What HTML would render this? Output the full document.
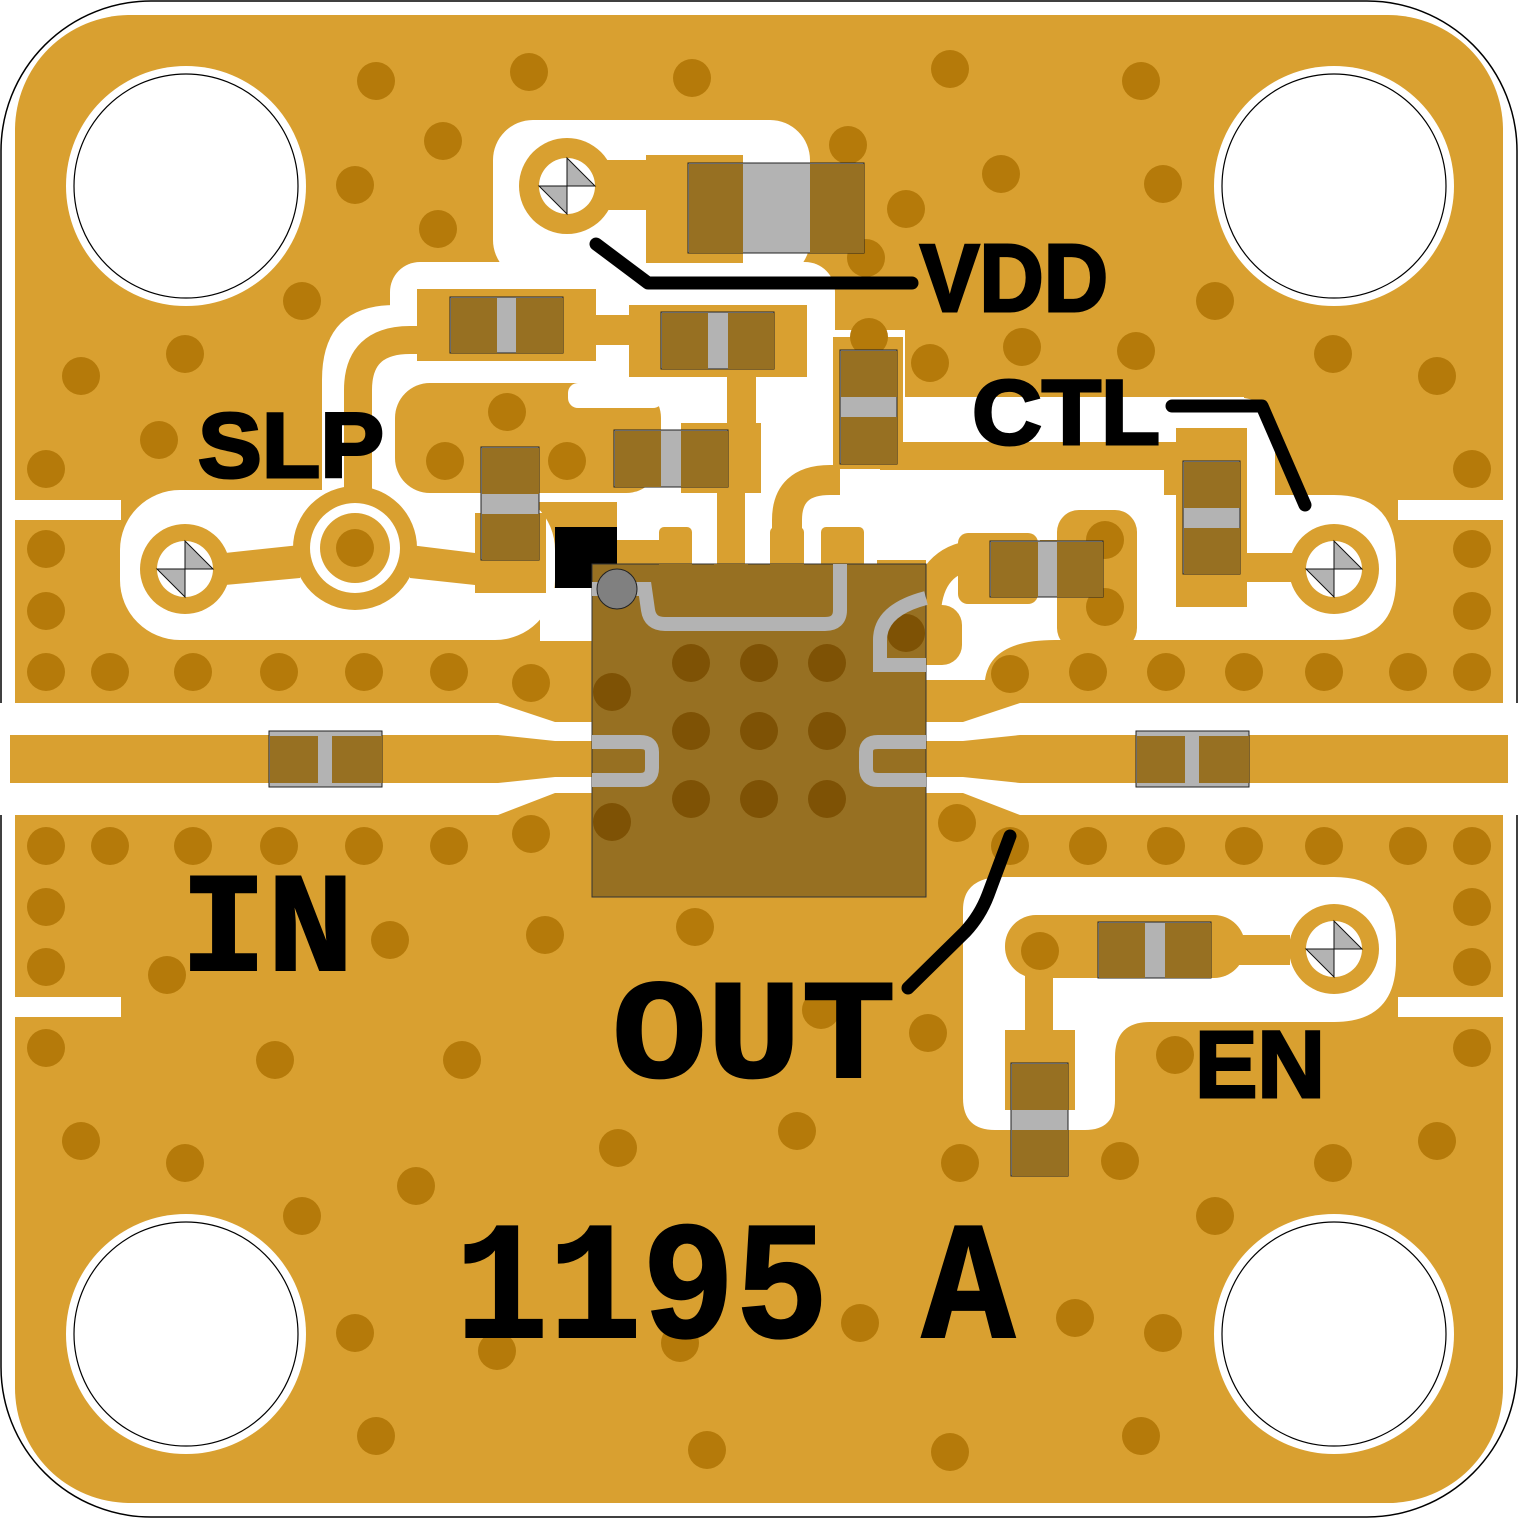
<!DOCTYPE html>
<html><head><meta charset="utf-8"><style>
html,body{margin:0;padding:0;background:#fff;}
svg{display:block;}
</style></head><body>
<svg width="1518" height="1518" viewBox="0 0 1518 1518" xmlns="http://www.w3.org/2000/svg">
<defs>
<g id="hole"><circle r="28" fill="#fff"/><path d="M0,-28 L0,28 M-28,0 L28,0" stroke="#333" stroke-width="1"/><path d="M0,-28 L28,0 L0,0Z M0,28 L-28,0 L0,0Z" fill="#b3b3b3" stroke="#111" stroke-width="1"/></g>
</defs>
<rect x="1" y="1" width="1516" height="1516" rx="150" fill="#fff" stroke="#000" stroke-width="1.5"/>
<rect x="15" y="15" width="1488" height="1488" rx="115" fill="#D9A030"/>

<!-- RF band clearance -->
<rect x="0" y="703" width="1518" height="112" fill="#fff"/>
<polygon points="15,703 498,703 555,722 963,722 1020,703 1503,703 1503,690 15,690" fill="#D9A030"/>
<polygon points="15,815 498,815 555,793 963,793 1020,815 1503,815 1503,830 15,830" fill="#D9A030"/>
<polygon points="10,735 498,735 555,741 963,741 1020,735 1508,735 1508,783 1020,783 963,777 555,777 498,783 10,783" fill="#D9A030"/>

<!-- edge notches -->
<rect x="15" y="500" width="106" height="20" fill="#fff"/>
<rect x="1398" y="500" width="105" height="20" fill="#fff"/>
<rect x="15" y="997" width="106" height="20" fill="#fff"/>
<rect x="1398" y="997" width="105" height="20" fill="#fff"/>

<!-- white clearances -->
<rect x="493" y="120" width="317" height="160" rx="40" fill="#fff"/>
<rect x="390" y="262" width="445" height="240" rx="30" fill="#fff"/>
<path d="M322,500 L322,380 Q322,305 395,305 L420,305 L420,500Z" fill="#fff"/>
<rect x="120" y="490" width="435" height="150" rx="60" fill="#fff"/>
<rect x="540" y="588" width="60" height="53" fill="#fff"/>
<rect x="617" y="495" width="260" height="69" fill="#fff"/>
<rect x="835" y="330" width="70" height="170" fill="#fff"/>
<rect x="904" y="397" width="340" height="45" fill="#fff"/>
<path d="M1230,397 Q1275,397 1275,430 L1275,500 L1230,500Z" fill="#fff"/>
<path d="M803,495 L1334,495 Q1396,495 1396,560 L1396,580 Q1396,640 1334,640 L1055,640 L1055,640 Q990,640 985,680 L926,680 L926,560 L803,560Z" fill="#fff"/>
<rect x="904" y="470" width="260" height="30" fill="#fff"/>
<path d="M1003,877 L1334,877 Q1396,877 1396,940 L1396,960 Q1396,1022 1334,1022 L1150,1022 Q1115,1022 1115,1057 L1115,1100 Q1115,1130 1085,1130 L995,1130 Q963,1130 963,1098 L963,910 Q963,877 1003,877Z" fill="#fff"/>

<!-- gold traces inside clearances -->
<g fill="#D9A030">
<circle cx="567" cy="186" r="48"/>
<rect x="595" y="160" width="60" height="50"/>
<rect x="646" y="155" width="97" height="108"/>
<rect x="417" y="289" width="179" height="72"/>
<rect x="590" y="315" width="45" height="30"/>
<rect x="629" y="305" width="178" height="72"/>
<rect x="727" y="370" width="29" height="60"/>
<rect x="681" y="423" width="80" height="70"/>
<rect x="395" y="383" width="266" height="110" rx="35"/>
<rect x="717" y="490" width="28" height="123"/>
<rect x="659" y="527" width="33" height="86" rx="5"/>
<rect x="770" y="527" width="34" height="86" rx="5"/>
<rect x="821" y="527" width="43" height="86" rx="5"/>
<rect x="617" y="540" width="42" height="30"/>
<rect x="833" y="337" width="70" height="132"/>
<rect x="880" y="442" width="295" height="28"/>
<rect x="1176" y="428" width="71" height="179"/>
<rect x="1240" y="553" width="60" height="29"/>
<circle cx="1334" cy="569" r="45"/>
<rect x="958" y="533" width="80" height="71" rx="10"/>
<rect x="1057" y="510" width="80" height="140" rx="22"/>
<rect x="1040" y="540" width="30" height="55"/>
<circle cx="185" cy="569" r="45"/>
<polygon points="225,553 300,545 300,578 225,585"/>
<circle cx="355" cy="548" r="62"/>
<polygon points="410,545 475,553 475,585 410,578"/>
<rect x="475" y="513" width="71" height="80"/>
<rect x="1005" y="915" width="240" height="63" rx="31"/>
<rect x="1230" y="935" width="60" height="30"/>
<circle cx="1334" cy="949" r="45"/>
<rect x="1025" y="945" width="28" height="120"/>
<rect x="1005" y="1030" width="70" height="80"/>
</g>
<path d="M787,613 L787,520 Q787,480 830,480 L840,480" stroke="#D9A030" stroke-width="30" fill="none"/>
<path d="M358,490 L358,390 Q358,340 410,340 L420,340" stroke="#D9A030" stroke-width="28" fill="none"/>
<path d="M926,610 Q930,560 975,555" stroke="#D9A030" stroke-width="30" fill="none"/>
<rect x="877" y="605" width="85" height="60" rx="20" fill="#D9A030"/>
<rect x="568" y="383" width="95" height="25" rx="10" fill="#fff"/>
<circle cx="355" cy="548" r="45" fill="#fff"/>
<circle cx="355" cy="548" r="35" fill="#D9A030"/>

<!-- mounting holes -->
<g fill="#fff" stroke="#000" stroke-width="1.2">
<circle cx="186" cy="186" r="120" stroke="none"/><circle cx="186" cy="186" r="112"/>
<circle cx="1334" cy="186" r="120" stroke="none"/><circle cx="1334" cy="186" r="112"/>
<circle cx="186" cy="1334" r="120" stroke="none"/><circle cx="186" cy="1334" r="112"/>
<circle cx="1334" cy="1334" r="120" stroke="none"/><circle cx="1334" cy="1334" r="112"/>
</g>

<!-- vias -->
<g fill="#B57A0A">
<circle cx="376" cy="81" r="19"/><circle cx="529" cy="72" r="19"/><circle cx="692" cy="78" r="19"/><circle cx="950" cy="69" r="19"/><circle cx="1141" cy="81" r="19"/>
<circle cx="443" cy="141" r="19"/><circle cx="848" cy="145" r="19"/><circle cx="355" cy="185" r="19"/><circle cx="438" cy="229" r="19"/><circle cx="1001" cy="174" r="19"/><circle cx="1163" cy="184" r="19"/><circle cx="906" cy="209" r="19"/><circle cx="866" cy="258" r="19"/>
<circle cx="302" cy="301" r="19"/><circle cx="1215" cy="301" r="19"/><circle cx="869" cy="337" r="19"/><circle cx="1022" cy="347" r="19"/><circle cx="930" cy="363" r="19"/><circle cx="1136" cy="351" r="19"/>
<circle cx="185" cy="354" r="19"/><circle cx="81" cy="376" r="19"/><circle cx="1333" cy="354" r="19"/><circle cx="1437" cy="376" r="19"/><circle cx="159" cy="440" r="19"/>
<circle cx="507" cy="412" r="19"/><circle cx="445" cy="461" r="19"/><circle cx="567" cy="461" r="19"/>
<circle cx="46" cy="469" r="19"/><circle cx="1472" cy="469" r="19"/><circle cx="46" cy="549" r="19"/><circle cx="46" cy="611" r="19"/><circle cx="1472" cy="549" r="19"/><circle cx="1472" cy="611" r="19"/>
<circle cx="355" cy="548" r="19"/><circle cx="1105" cy="540" r="19"/><circle cx="1105" cy="607" r="19"/>
<circle cx="46" cy="672" r="19"/><circle cx="110" cy="672" r="19"/><circle cx="193" cy="672" r="19"/><circle cx="279" cy="672" r="19"/><circle cx="364" cy="672" r="19"/><circle cx="449" cy="672" r="19"/><circle cx="531" cy="683" r="19"/>
<circle cx="1010" cy="674" r="19"/><circle cx="1088" cy="672" r="19"/><circle cx="1166" cy="672" r="19"/><circle cx="1244" cy="672" r="19"/><circle cx="1324" cy="672" r="19"/><circle cx="1408" cy="672" r="19"/><circle cx="1472" cy="672" r="19"/>
<circle cx="46" cy="846" r="19"/><circle cx="110" cy="846" r="19"/><circle cx="193" cy="846" r="19"/><circle cx="279" cy="846" r="19"/><circle cx="364" cy="846" r="19"/><circle cx="449" cy="846" r="19"/><circle cx="531" cy="834" r="19"/>
<circle cx="957" cy="823" r="19"/><circle cx="1010" cy="846" r="19"/><circle cx="1088" cy="846" r="19"/><circle cx="1166" cy="846" r="19"/><circle cx="1244" cy="846" r="19"/><circle cx="1324" cy="846" r="19"/><circle cx="1408" cy="846" r="19"/><circle cx="1472" cy="846" r="19"/>
<circle cx="46" cy="907" r="19"/><circle cx="46" cy="967" r="19"/><circle cx="1472" cy="907" r="19"/><circle cx="1472" cy="967" r="19"/>
<circle cx="390" cy="940" r="19"/><circle cx="167" cy="975" r="19"/><circle cx="545" cy="935" r="19"/><circle cx="695" cy="927" r="19"/><circle cx="1040" cy="951" r="19"/>
<circle cx="46" cy="1048" r="19"/><circle cx="275" cy="1060" r="19"/><circle cx="462" cy="1060" r="19"/><circle cx="1472" cy="1048" r="19"/><circle cx="821" cy="1010" r="19"/><circle cx="928" cy="1033" r="19"/><circle cx="1175" cy="1055" r="19"/>
<circle cx="81" cy="1141" r="19"/><circle cx="185" cy="1163" r="19"/><circle cx="618" cy="1148" r="19"/><circle cx="797" cy="1131" r="19"/><circle cx="960" cy="1163" r="19"/><circle cx="1120" cy="1161" r="19"/><circle cx="1333" cy="1163" r="19"/><circle cx="1437" cy="1141" r="19"/>
<circle cx="416" cy="1186" r="19"/><circle cx="302" cy="1216" r="19"/><circle cx="1215" cy="1216" r="19"/>
<circle cx="355" cy="1333" r="19"/><circle cx="497" cy="1351" r="19"/><circle cx="680" cy="1343" r="19"/><circle cx="860" cy="1323" r="19"/><circle cx="1075" cy="1318" r="19"/><circle cx="1163" cy="1333" r="19"/>
<circle cx="376" cy="1436" r="19"/><circle cx="707" cy="1450" r="19"/><circle cx="950" cy="1452" r="19"/><circle cx="1141" cy="1436" r="19"/>
</g>

<!-- via holes -->
<use href="#hole" x="567" y="186"/>
<use href="#hole" x="185" y="569"/>
<use href="#hole" x="1334" y="569"/>
<use href="#hole" x="1334" y="949"/>

<!-- IC -->
<rect x="555" y="527" width="62" height="61" fill="#000"/>
<rect x="592" y="564" width="334" height="333" fill="#977022" stroke="#333" stroke-width="1"/>
<g fill="#7E5205">
<circle cx="691" cy="663" r="19"/><circle cx="759" cy="663" r="19"/><circle cx="827" cy="663" r="19"/>
<circle cx="691" cy="731" r="19"/><circle cx="759" cy="731" r="19"/><circle cx="827" cy="731" r="19"/>
<circle cx="691" cy="799" r="19"/><circle cx="759" cy="799" r="19"/><circle cx="827" cy="799" r="19"/>
<circle cx="612" cy="692" r="19"/><circle cx="612" cy="822" r="19"/><circle cx="906" cy="633" r="19"/>
</g>
<g fill="none" stroke="#b3b3b3" stroke-width="14">
<path d="M592,589 L645,589 L648,610 Q650,624 665,624 L825,624 Q840,624 840,610 L840,564"/>
<path d="M592,742 L640,742 Q652,742 652,752 L652,768 Q652,780 640,780 L592,780"/>
<path d="M926,742 L878,742 Q866,742 866,752 L866,768 Q866,780 878,780 L926,780"/>
<path d="M926,598 Q880,610 880,640 L880,665 L926,665"/>
</g>
<g fill="#977022">
<rect x="659" y="564" width="33" height="49"/><rect x="714" y="564" width="34" height="49"/><rect x="770" y="564" width="34" height="49"/>
</g>
<circle cx="617" cy="589" r="20" fill="#808080" stroke="#222" stroke-width="1"/>

<!-- components -->
<g stroke="#222" stroke-width="1">
<rect x="688" y="163" width="176" height="90" fill="#b3b3b3"/>
<rect x="450" y="297" width="113" height="56" fill="#b3b3b3"/>
<rect x="661" y="312" width="113" height="57" fill="#b3b3b3"/>
<rect x="614" y="430" width="114" height="57" fill="#b3b3b3"/>
<rect x="269" y="731" width="113" height="56" fill="#b3b3b3"/>
<rect x="1136" y="731" width="113" height="56" fill="#b3b3b3"/>
<rect x="990" y="541" width="113" height="56" fill="#b3b3b3"/>
<rect x="1098" y="922" width="113" height="56" fill="#b3b3b3"/>
<rect x="481" y="447" width="58" height="113" fill="#b3b3b3"/>
<rect x="840" y="350" width="57" height="114" fill="#b3b3b3"/>
<rect x="1183" y="461" width="57" height="113" fill="#b3b3b3"/>
<rect x="1011" y="1063" width="57" height="113" fill="#b3b3b3"/>
</g>
<g fill="#977022">
<rect x="689" y="164" width="54" height="89"/><rect x="810" y="164" width="54" height="89"/>
<rect x="451" y="298" width="46" height="55"/><rect x="516" y="298" width="47" height="55"/>
<rect x="662" y="313" width="46" height="56"/><rect x="728" y="313" width="46" height="56"/>
<rect x="615" y="431" width="46" height="56"/><rect x="681" y="431" width="47" height="56"/>
<rect x="270" y="736" width="48" height="47"/><rect x="332" y="736" width="50" height="47"/>
<rect x="1137" y="736" width="48" height="47"/><rect x="1199" y="736" width="50" height="47"/>
<rect x="991" y="542" width="47" height="55"/><rect x="1057" y="542" width="46" height="55"/>
<rect x="1099" y="923" width="46" height="55"/><rect x="1165" y="923" width="46" height="55"/>
<rect x="482" y="448" width="57" height="46"/><rect x="482" y="514" width="57" height="46"/>
<rect x="841" y="351" width="56" height="46"/><rect x="841" y="417" width="56" height="47"/>
<rect x="1184" y="462" width="56" height="46"/><rect x="1184" y="528" width="56" height="46"/>
<rect x="1012" y="1064" width="56" height="46"/><rect x="1012" y="1130" width="56" height="46"/>
</g>

<!-- leader lines -->
<g fill="none" stroke="#000" stroke-width="13" stroke-linecap="round" stroke-linejoin="round">
<path d="M596,244 L648,283 L912,283"/>
<path d="M1172,406 L1262,406 L1305,505"/>
<path d="M908,988 L965,932 Q980,916 988,895 L1010,836"/>
</g>

<!-- labels -->
<g font-family="'Liberation Sans',sans-serif" font-weight="bold" fill="#000" stroke="#000" stroke-width="3">
<text x="198" y="477" font-size="92" textLength="186" lengthAdjust="spacingAndGlyphs">SLP</text>
<text x="920" y="311" font-size="96" textLength="188" lengthAdjust="spacingAndGlyphs">VDD</text>
<text x="972" y="444" font-size="92" textLength="188" lengthAdjust="spacingAndGlyphs">CTL</text>
<text x="1195" y="1097" font-size="95" textLength="130" lengthAdjust="spacingAndGlyphs">EN</text>
</g>
<g font-family="'Liberation Mono',monospace" font-weight="bold" fill="#000" stroke="#000" stroke-width="2">
<text x="180" y="970" font-size="142" textLength="174" lengthAdjust="spacingAndGlyphs">IN</text>
<text x="612" y="1077" font-size="142" textLength="284" lengthAdjust="spacingAndGlyphs">OUT</text>
<text x="455" y="1337" font-size="168" textLength="560" lengthAdjust="spacingAndGlyphs">1195 A</text>
</g>
</svg>
</body></html>
